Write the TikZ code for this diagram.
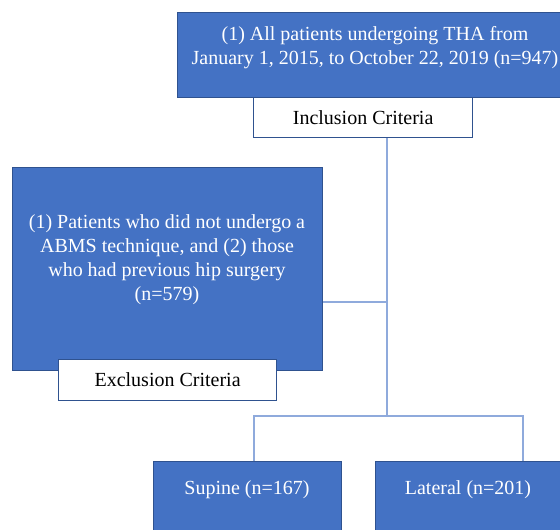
\documentclass[tikz,border=0pt]{standalone}
\usepackage{fontspec}
\setmainfont{Liberation Serif}
\usetikzlibrary{positioning,calc}
\definecolor{boxblue}{HTML}{4472C4}
\definecolor{edgeblue}{HTML}{2F528F}
\definecolor{linkblue}{HTML}{8FAADC}

\begin{document}
\begin{tikzpicture}
  [x=1pt,y=-1pt,
   every node/.style={font=\fontsize{20}{24}\selectfont},
   bluebox/.style={draw=edgeblue, fill=boxblue, line width=1.2pt, anchor=north west, inner sep=0pt},
   whitebox/.style={draw=edgeblue, fill=white, line width=1.2pt, anchor=north west, inner sep=0pt},
   boxtext/.style={text=white, align=center, inner sep=0pt},
   link/.style={draw=linkblue, line width=1.1pt}]
  \useasboundingbox (0,0) rectangle (560,530);
  \clip (0,0) rectangle (560,530);

  \coordinate (join) at (387,302);
  \coordinate (split) at (387,416);
  \coordinate (lefttop) at (254,416);
  \coordinate (righttop) at (523,416);

  % boxes
  \node [bluebox, minimum width=396pt, minimum height=85pt] (all) at (177,12) {};
  \node [boxtext] (alltext) at (375,47.5) {(1) All patients undergoing THA from\\January 1, 2015, to October 22, 2019 (n=947)};
  \node [whitebox, minimum width=219pt, minimum height=40pt] (incl) at (253,97) {Inclusion Criteria};

  \node [bluebox, minimum width=310pt, minimum height=203pt] (excl) at (12,167) {};
  \node [boxtext] (excltext) at (167,260) {(1) Patients who did not undergo a\\ABMS technique, and (2) those\\who had previous hip surgery\\(n=579)};
  \node [whitebox, minimum width=218pt, minimum height=41pt] (exclcrit) at (58,359) {Exclusion Criteria};

  \node [bluebox, minimum width=188pt, minimum height=90pt] (supine) at (153,461) {};
  \node [boxtext] (supinetext) at (247,490) {Supine (n=167)};
  \node [bluebox, minimum width=186pt, minimum height=90pt] (lateral) at (375,461) {};
  \node [boxtext] (lateraltext) at (468,490) {Lateral (n=201)};

  % connectors
  \draw [link] (incl.south -| split) -- (split);
  \draw [link] (excl.east |- join) -- (join);
  \draw [link] (supine.north -| lefttop) -- (lefttop) -- (righttop) -- (lateral.north -| righttop);
\end{tikzpicture}
\end{document}
